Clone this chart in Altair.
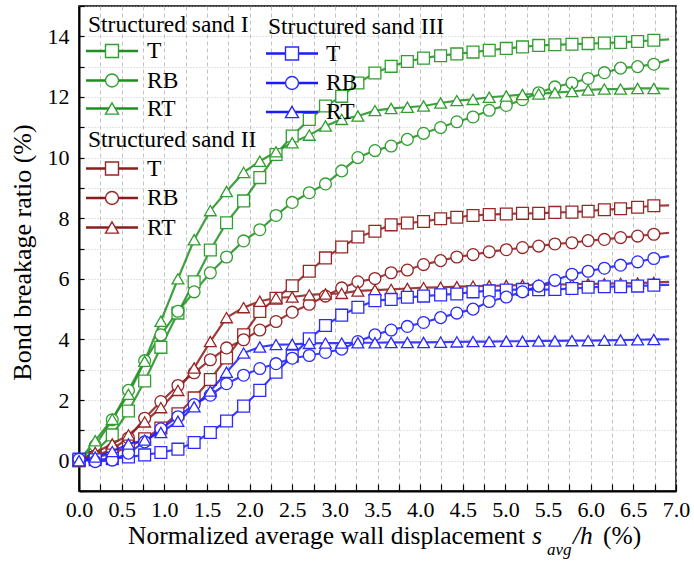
import altair as alt
import pandas as pd

# ---------------- data ----------------
disp = [0.0, 0.19, 0.39, 0.58, 0.77, 0.96, 1.16, 1.35, 1.54, 1.73, 1.93, 2.12,
        2.31, 2.50, 2.70, 2.89, 3.08, 3.27, 3.47, 3.66, 3.85, 4.04, 4.24, 4.43,
        4.62, 4.81, 5.01, 5.20, 5.39, 5.58, 5.78, 5.97, 6.16, 6.35, 6.55, 6.74, 6.92]

sand1_T = [0.0, 0.3, 0.85, 1.64, 2.63, 3.74, 4.87, 5.9, 6.95, 7.85, 8.57, 9.34, 10.1,
           10.71, 11.26, 11.7, 12.02, 12.46, 12.79, 13.01, 13.17, 13.28, 13.36, 13.42,
           13.48, 13.54, 13.6, 13.65, 13.7, 13.72, 13.74, 13.76, 13.78, 13.8, 13.83,
           13.87, 13.9]
sand1_RB = [0.0, 0.5, 1.35, 2.32, 3.3, 4.15, 4.93, 5.57, 6.2, 6.72, 7.25, 7.62, 8.09,
            8.52, 8.84, 9.13, 9.56, 10.0, 10.23, 10.38, 10.6, 10.8, 10.99, 11.18,
            11.34, 11.56, 11.72, 11.91, 12.14, 12.33, 12.46, 12.61, 12.8, 12.95, 13.0,
            13.08, 13.23]
sand1_RT = [0.0, 0.66, 1.37, 2.19, 3.28, 4.6, 6.0, 7.29, 8.25, 8.88, 9.51, 9.88, 10.19,
            10.49, 10.74, 11.04, 11.26, 11.37, 11.55, 11.62, 11.66, 11.7, 11.8, 11.88,
            11.92, 11.99, 12.03, 12.08, 12.1, 12.14, 12.18, 12.23, 12.26, 12.26, 12.28,
            12.28, 12.27]

sand2_T = [0.0, 0.1, 0.25, 0.45, 0.72, 1.08, 1.55, 2.07, 2.68, 3.39, 4.15, 4.92, 5.36,
           5.77, 6.25, 6.69, 7.05, 7.38, 7.57, 7.78, 7.84, 7.89, 7.98, 8.03, 8.09, 8.12,
           8.14, 8.16, 8.16, 8.19, 8.2, 8.23, 8.28, 8.31, 8.36, 8.41, 8.42]
sand2_RB = [0.0, 0.15, 0.38, 0.75, 1.4, 1.95, 2.48, 2.9, 3.33, 3.72, 3.99, 4.31, 4.59,
            4.9, 5.16, 5.43, 5.7, 5.9, 6.01, 6.2, 6.29, 6.47, 6.6, 6.72, 6.8, 6.89, 6.96,
            7.03, 7.08, 7.15, 7.19, 7.26, 7.3, 7.36, 7.41, 7.47, 7.52]
sand2_RT = [0.0, 0.27, 0.55, 0.85, 1.28, 1.75, 2.32, 3.06, 3.93, 4.72, 5.05, 5.26, 5.37,
            5.4, 5.47, 5.5, 5.52, 5.6, 5.63, 5.65, 5.68, 5.71, 5.72, 5.74, 5.76, 5.77,
            5.78, 5.79, 5.8, 5.81, 5.82, 5.83, 5.84, 5.85, 5.86, 5.88, 5.9]

sand3_T = [0.05, 0.03, 0.07, 0.12, 0.19, 0.27, 0.38, 0.6, 0.93, 1.31, 1.8, 2.32, 2.92,
           3.45, 4.02, 4.46, 4.8, 5.06, 5.28, 5.32, 5.39, 5.43, 5.47, 5.5, 5.57, 5.6,
           5.63, 5.65, 5.64, 5.65, 5.68, 5.72, 5.74, 5.74, 5.76, 5.79, 5.8]
sand3_RB = [0.05, -0.03, 0.02, 0.25, 0.62, 1.05, 1.45, 1.85, 2.16, 2.54, 2.82, 3.04, 3.2,
            3.38, 3.47, 3.57, 3.68, 3.93, 4.15, 4.31, 4.43, 4.56, 4.72, 4.87, 5.0, 5.25,
            5.4, 5.57, 5.76, 5.95, 6.15, 6.25, 6.35, 6.45, 6.56, 6.67, 6.75]
sand3_RT = [0.0, 0.12, 0.3, 0.55, 0.68, 0.93, 1.3, 1.78, 2.3, 2.92, 3.55, 3.75, 3.83,
            3.84, 3.87, 3.88, 3.88, 3.89, 3.89, 3.9, 3.9, 3.9, 3.91, 3.92, 3.93, 3.93,
            3.94, 3.94, 3.95, 3.95, 3.96, 3.96, 3.97, 3.98, 3.99, 4.0, 4.0]

types = ["T", "RB", "RT"]
group_names = ["Structured sand I", "Structured sand II", "Structured sand III"]

x_ticks = [0.0, 0.25, 0.5, 0.75, 1.0, 1.25, 1.5, 1.75, 2.0, 2.25, 2.5, 2.75, 3.0, 3.25,
           3.5, 3.75, 4.0, 4.25, 4.5, 4.75, 5.0, 5.25, 5.5, 5.75, 6.0, 6.25, 6.5, 6.75, 7.0]
y_ticks = [-1, 0, 1, 2, 3, 4, 5, 6, 7, 8, 9, 10, 11, 12, 13, 14, 15]

y_title = "Bond breakage ratio (%)"
x_title_parts = ["Normalized average wall displacement", "s", "avg", "/h", "(%)"]

# ---------------- styling ----------------
FONT = "Liberation Serif"
W, H = 597, 485

green, green_m = "#1f8f1f", "#2f9f2f"
brown, brown_m = "#8c1c1c", "#982424"
blue, blue_m = "#1a1aff", "#2a2aff"

plot_shapes = ["square", "circle", "triangle-up"]


def make_df(series):
    rows = []
    n = len(disp)
    for t, vals in zip(types, series):
        for i, (xv, yv) in enumerate(zip(disp, vals)):
            rows.append({"x": xv, "y": yv, "type": t, "i": i, "m": i < n - 1})
    return pd.DataFrame(rows)


x_scale = alt.Scale(domain=[0, 7], nice=False, zero=False)
y_scale = alt.Scale(domain=[-1, 15], nice=False, zero=False)

axis_x_main = alt.Axis(
    orient="bottom", values=x_ticks,
    labelExpr="(round(datum.value*100) % 50 == 0) ? format(datum.value, '.1f') : ''",
    ticks=False, tickSize=0, domain=True, domainColor="black", domainWidth=2,
    grid=True, gridColor="#b4b4b4", gridDash=[4, 3], gridWidth=0.8,
    labelFont=FONT, labelFontSize=22, labelColor="black", labelPadding=8,
    labelOverlap=False, labelFlush=False, title=None)
axis_y_main = alt.Axis(
    orient="left", values=y_ticks,
    labelExpr="(datum.value >= 0 && datum.value % 2 == 0) ? datum.label : ''",
    ticks=False, tickSize=0, domain=True, domainColor="black", domainWidth=2,
    grid=True, gridColor="#b8b8b8", gridDash=[1, 2], gridWidth=0.8,
    labelFont=FONT, labelFontSize=22, labelColor="black", labelPadding=10,
    labelOverlap=False, labelFlush=False,
    title=y_title, titleFont=FONT, titleFontSize=26, titleFontWeight="normal",
    titleColor="black", titleX=-44, titleY=246, titleAngle=270,
    titleAlign="center", titleBaseline="bottom")
axis_x_ticks = alt.Axis(orient="top", offset=-H, values=x_ticks, labels=False,
                        domain=False, grid=False, ticks=True, tickSize=7,
                        tickColor="black", tickWidth=1.2, title=None)
axis_y_ticks = alt.Axis(orient="right", offset=-W, values=y_ticks, labels=False,
                        domain=False, grid=False, ticks=True, tickSize=5,
                        tickColor="black", tickWidth=1.2, title=None)


def group(series, color, mcolor, x_axis, y_axis):
    df = make_df(series)
    base = alt.Chart(df)
    xenc = alt.X("x:Q", scale=x_scale, axis=x_axis)
    yenc = alt.Y("y:Q", scale=y_scale, axis=y_axis)
    line = base.mark_line(color=color, strokeWidth=2.2, opacity=0.85).encode(
        x=xenc, y=yenc, detail="type:N", order="i:Q")
    pts = []
    for t, s in zip(types, plot_shapes):
        pts.append(
            base.transform_filter(f"datum.m && datum.type == '{t}'")
            .mark_point(shape=s, size=140, filled=True, fill="white", stroke=mcolor,
                        strokeWidth=1.3, opacity=1)
            .encode(x=xenc, y=yenc))
    return alt.layer(line, *pts)


g1 = group([sand1_T, sand1_RB, sand1_RT], green, green_m, axis_x_main, axis_y_main)
g2 = group([sand2_T, sand2_RB, sand2_RT], brown, brown_m, None, None)
g3 = group([sand3_T, sand3_RB, sand3_RT], blue, blue_m, axis_x_ticks, axis_y_ticks)


# ---------------- legend (drawn as marks, positions in plot pixels) ----------------
def legend_block(name, color, mcolor, x0, header_y, entry_ys, label_dx):
    layers = [
        alt.Chart(pd.DataFrame({"label": [name]}))
        .mark_text(align="left", baseline="middle", font=FONT, fontSize=23.5,
                   color="black")
        .encode(text="label:N", x=alt.value(x0 + 2), y=alt.value(header_y))
    ]
    for t, s, ey in zip(types, plot_shapes, entry_ys):
        one = pd.DataFrame({"label": [t]})
        layers.append(
            alt.Chart(one).mark_rule(color=color, strokeWidth=2.6)
            .encode(x=alt.value(x0), x2=alt.value(x0 + 52), y=alt.value(ey)))
        layers.append(
            alt.Chart(one).mark_point(shape=s, size=169, filled=True, fill="white",
                                      stroke=mcolor, strokeWidth=1.4, opacity=1)
            .encode(x=alt.value(x0 + 26), y=alt.value(ey)))
        layers.append(
            alt.Chart(one).mark_text(align="left", baseline="middle", font=FONT,
                                     fontSize=23.5, color="black")
            .encode(text="label:N", x=alt.value(x0 + label_dx), y=alt.value(ey)))
    return layers


legend_layers = (
    legend_block(group_names[0], green, green_m, 7, 19, [45, 74.5, 102.5], 61)
    + legend_block(group_names[1], brown, brown_m, 7, 134, [162.5, 192, 221.5], 61)
    + legend_block(group_names[2], blue, blue_m, 187, 20.5, [47.5, 77, 106], 60)
)

# x-axis title with italic subscripted variable, as separate text pieces
title_specs = [
    (x_title_parts[0], 49, 538, 25.5, "normal"),
    (x_title_parts[1], 453, 538, 25.5, "italic"),
    (x_title_parts[2], 468, 549, 17, "italic"),
    (x_title_parts[3], 494, 538, 25.5, "italic"),
    (x_title_parts[4], 524, 538, 25.5, "normal"),
]
title_layers = []
for txt, px, py, fs, st in title_specs:
    title_layers.append(
        alt.Chart(pd.DataFrame({"label": [txt]}))
        .mark_text(align="left", baseline="alphabetic", font=FONT, fontSize=fs,
                   fontStyle=st, color="black")
        .encode(text="label:N", x=alt.value(px), y=alt.value(py)))

chart = (
    alt.layer(g1, g2, g3, *legend_layers, *title_layers)
    .resolve_axis(x="independent", y="independent")
    .properties(width=W, height=H, autosize="none",
                padding={"left": 79, "top": 6, "right": 18, "bottom": 79},
                background="white")
    .configure_view(stroke="black", strokeWidth=1.5)
)

chart.save("out.html", embed_options={"renderer": "svg", "actions": False})
